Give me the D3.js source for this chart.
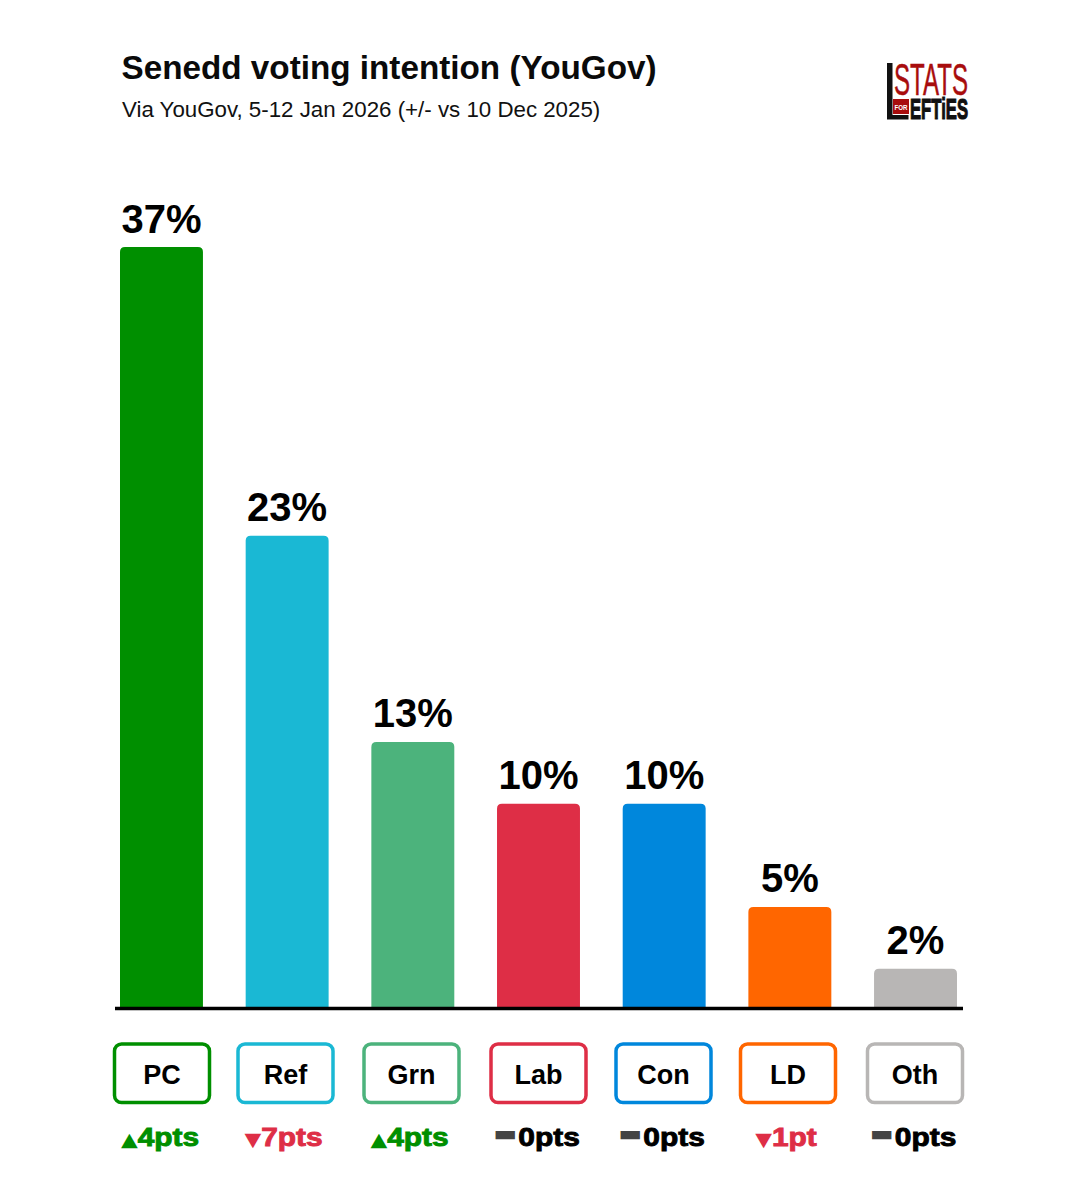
<!DOCTYPE html>
<html>
<meta charset="utf-8">

<head>
    <style>
        body {
            margin: 0;
            background: #fff;
        }

        svg {
            display: block;
        }

        text {
            font-family: "Liberation Sans", Arial, sans-serif;
        }

        .marker {
            font-family: "DejaVu Sans", sans-serif;
        }
    </style>
</head>

<body>
    <div id="chart"></div>
    <script src="https://d3js.org/d3.v7.min.js"></script>

    <script>
        const parties = ["PC", "Ref", "Grn", "Lab", "Con", "LD", "Oth"];
        const shares = [37, 23, 13, 10, 10, 5, 2];
        const changes = [4, -7, 4, 0, 0, -1, 0];
        const colours = ["#008f00", "#1ab8d4", "#4cb37c", "#de2e46", "#0087dc", "#ff6600", "#b8b6b5"];

        const title = "Senedd voting intention (YouGov)";
        const subtitle = "Via YouGov, 5-12 Jan 2026 (+/- vs 10 Dec 2025)";

        const width = 1078,
            height = 1200,
            baseline = 1010;

        const svg = d3.select("#chart")
            .append("svg")
            .attr("width", width)
            .attr("height", height);

        // set the ranges
        const x = d3.scaleBand()
            .domain(parties)
            .range([120, 957])
            .paddingInner(0.34)
            .paddingOuter(0);

        const y = d3.scaleLinear()
            .domain([0, 37])
            .range([baseline, 247]);

        const colour = d3.scaleOrdinal()
            .domain(parties)
            .range(colours);

        // the party boxes don't line up exactly with the bars in the original
        const boxGrid = d3.scalePoint()
            .domain(parties)
            .range([162, 915]);
        const boxNudge = [0, -2, -1.5, 0, -0.5, -1.5, 0];
        const boxX = function (p) { return boxGrid(p) + boxNudge[parties.indexOf(p)]; };

        const data = parties.map(function (p, i) {
            return { party: p, share: shares[i], change: changes[i] };
        });

        // title block
        svg.append("text")
            .attr("x", 121.5)
            .attr("y", 79)
            .attr("font-size", 33.25)
            .attr("font-weight", "bold")
            .attr("fill", "#0a0a0a")
            .text(title);

        svg.append("text")
            .attr("x", 122)
            .attr("y", 117)
            .attr("font-size", 22.3)
            .attr("fill", "#111")
            .text(subtitle);

        // bars, square at the baseline and slightly rounded on top
        svg.selectAll(".bar")
            .data(data)
            .join("path")
            .attr("class", "bar")
            .attr("fill", function (d) { return colour(d.party); })
            .attr("d", function (d) {
                const l = x(d.party), r = l + x.bandwidth(), t = y(d.share), c = 5;
                return `M${l},${baseline}V${t + c}Q${l},${t} ${l + c},${t}H${r - c}Q${r},${t} ${r},${t + c}V${baseline}Z`;
            });

        svg.selectAll(".value")
            .data(data)
            .join("text")
            .attr("class", "value")
            .attr("x", function (d) { return x(d.party) + x.bandwidth() / 2; })
            .attr("y", function (d) { return y(d.share) - 14.5; })
            .attr("text-anchor", "middle")
            .attr("font-size", 40)
            .attr("font-weight", "bold")
            .attr("fill", "#000")
            .text(function (d) { return d.share + "%"; });

        // baseline
        svg.append("line")
            .attr("x1", 115)
            .attr("x2", 963)
            .attr("y1", baseline - 1.5)
            .attr("y2", baseline - 1.5)
            .attr("stroke", "#000")
            .attr("stroke-width", 3.5);

        // party boxes
        svg.selectAll(".box")
            .data(data)
            .join("rect")
            .attr("class", "box")
            .attr("x", function (d) { return boxX(d.party) - 47.5; })
            .attr("y", 1044)
            .attr("width", 95)
            .attr("height", 58.5)
            .attr("rx", 7)
            .attr("fill", "#fff")
            .attr("stroke", function (d) { return colour(d.party); })
            .attr("stroke-width", 3.5);

        svg.selectAll(".party")
            .data(data)
            .join("text")
            .attr("class", "party")
            .attr("x", function (d) { return boxX(d.party); })
            .attr("y", 1084)
            .attr("text-anchor", "middle")
            .attr("font-size", 27)
            .attr("font-weight", "bold")
            .attr("fill", "#000")
            .text(function (d) { return d.party; });

        // change labels: marker glyph plus heavy points text, stretched sideways
        // because the original uses a blacker face than anything installed
        const changeColour = function (c) {
            return c > 0 ? "#008f00" : c < 0 ? "#de2e46" : "#000";
        };
        const markerColour = function (c) {
            return c === 0 ? "#444" : changeColour(c);
        };
        const marker = function (c) {
            return c > 0 ? "▲" : c < 0 ? "▼" : "▬";
        };
        const changeText = function (c) {
            const n = Math.abs(c);
            return n + (n === 1 ? "pt" : "pts");
        };

        const change = svg.selectAll(".change")
            .data(data)
            .join("text")
            .attr("class", "change")
            .attr("transform", function (d) {
                return `translate(${boxX(d.party) - 2},1146) scale(1.15,1)`;
            })
            .attr("text-anchor", "middle")
            .attr("font-size", 26)
            .attr("font-weight", "bold")
            .attr("fill", function (d) { return changeColour(d.change); })
            .attr("stroke", function (d) { return changeColour(d.change); })
            .attr("stroke-width", 0.9);

        change.append("tspan")
            .attr("class", "marker")
            .attr("font-size", function (d) { return d.change === 0 ? 22 : 19; })
            .attr("font-weight", "normal")
            .attr("dy", function (d) { return d.change === 0 ? -5 : 0; })
            .attr("fill", function (d) { return markerColour(d.change); })
            .attr("stroke", "none")
            .text(function (d) { return marker(d.change); });

        change.append("tspan")
            .attr("dx", function (d) { return d.change === 0 ? 1 : 0; })
            .attr("dy", function (d) { return d.change === 0 ? 5 : 0; })
            .text(function (d) { return changeText(d.change); });

        // logo, hand drawn from rules and squeezed text
        const logo = svg.append("g");

        logo.append("path")
            .attr("fill", "#111")
            .attr("d", "M887,63h5.5v52h16v4.5h-21.5Z");

        logo.append("text")
            .attr("x", 894)
            .attr("y", 95)
            .attr("textLength", 74)
            .attr("lengthAdjust", "spacingAndGlyphs")
            .attr("font-size", 45)
            .attr("fill", "#a80d0d")
            .attr("stroke", "#a80d0d")
            .attr("stroke-width", 0.5)
            .text("STATS");

        logo.append("rect")
            .attr("x", 893)
            .attr("y", 99)
            .attr("width", 16)
            .attr("height", 15)
            .attr("fill", "#a80d0d");

        logo.append("text")
            .attr("x", 901)
            .attr("y", 109.5)
            .attr("text-anchor", "middle")
            .attr("textLength", 13)
            .attr("lengthAdjust", "spacingAndGlyphs")
            .attr("font-size", 8)
            .attr("font-weight", "bold")
            .attr("fill", "#fff")
            .text("FOR");

        logo.append("text")
            .attr("x", 910)
            .attr("y", 119)
            .attr("textLength", 58)
            .attr("lengthAdjust", "spacingAndGlyphs")
            .attr("font-size", 30)
            .attr("font-weight", "bold")
            .attr("fill", "#111")
            .attr("stroke", "#111")
            .attr("stroke-width", 1.2)
            .text("EFTiES");
    </script>

</body>

</html>
